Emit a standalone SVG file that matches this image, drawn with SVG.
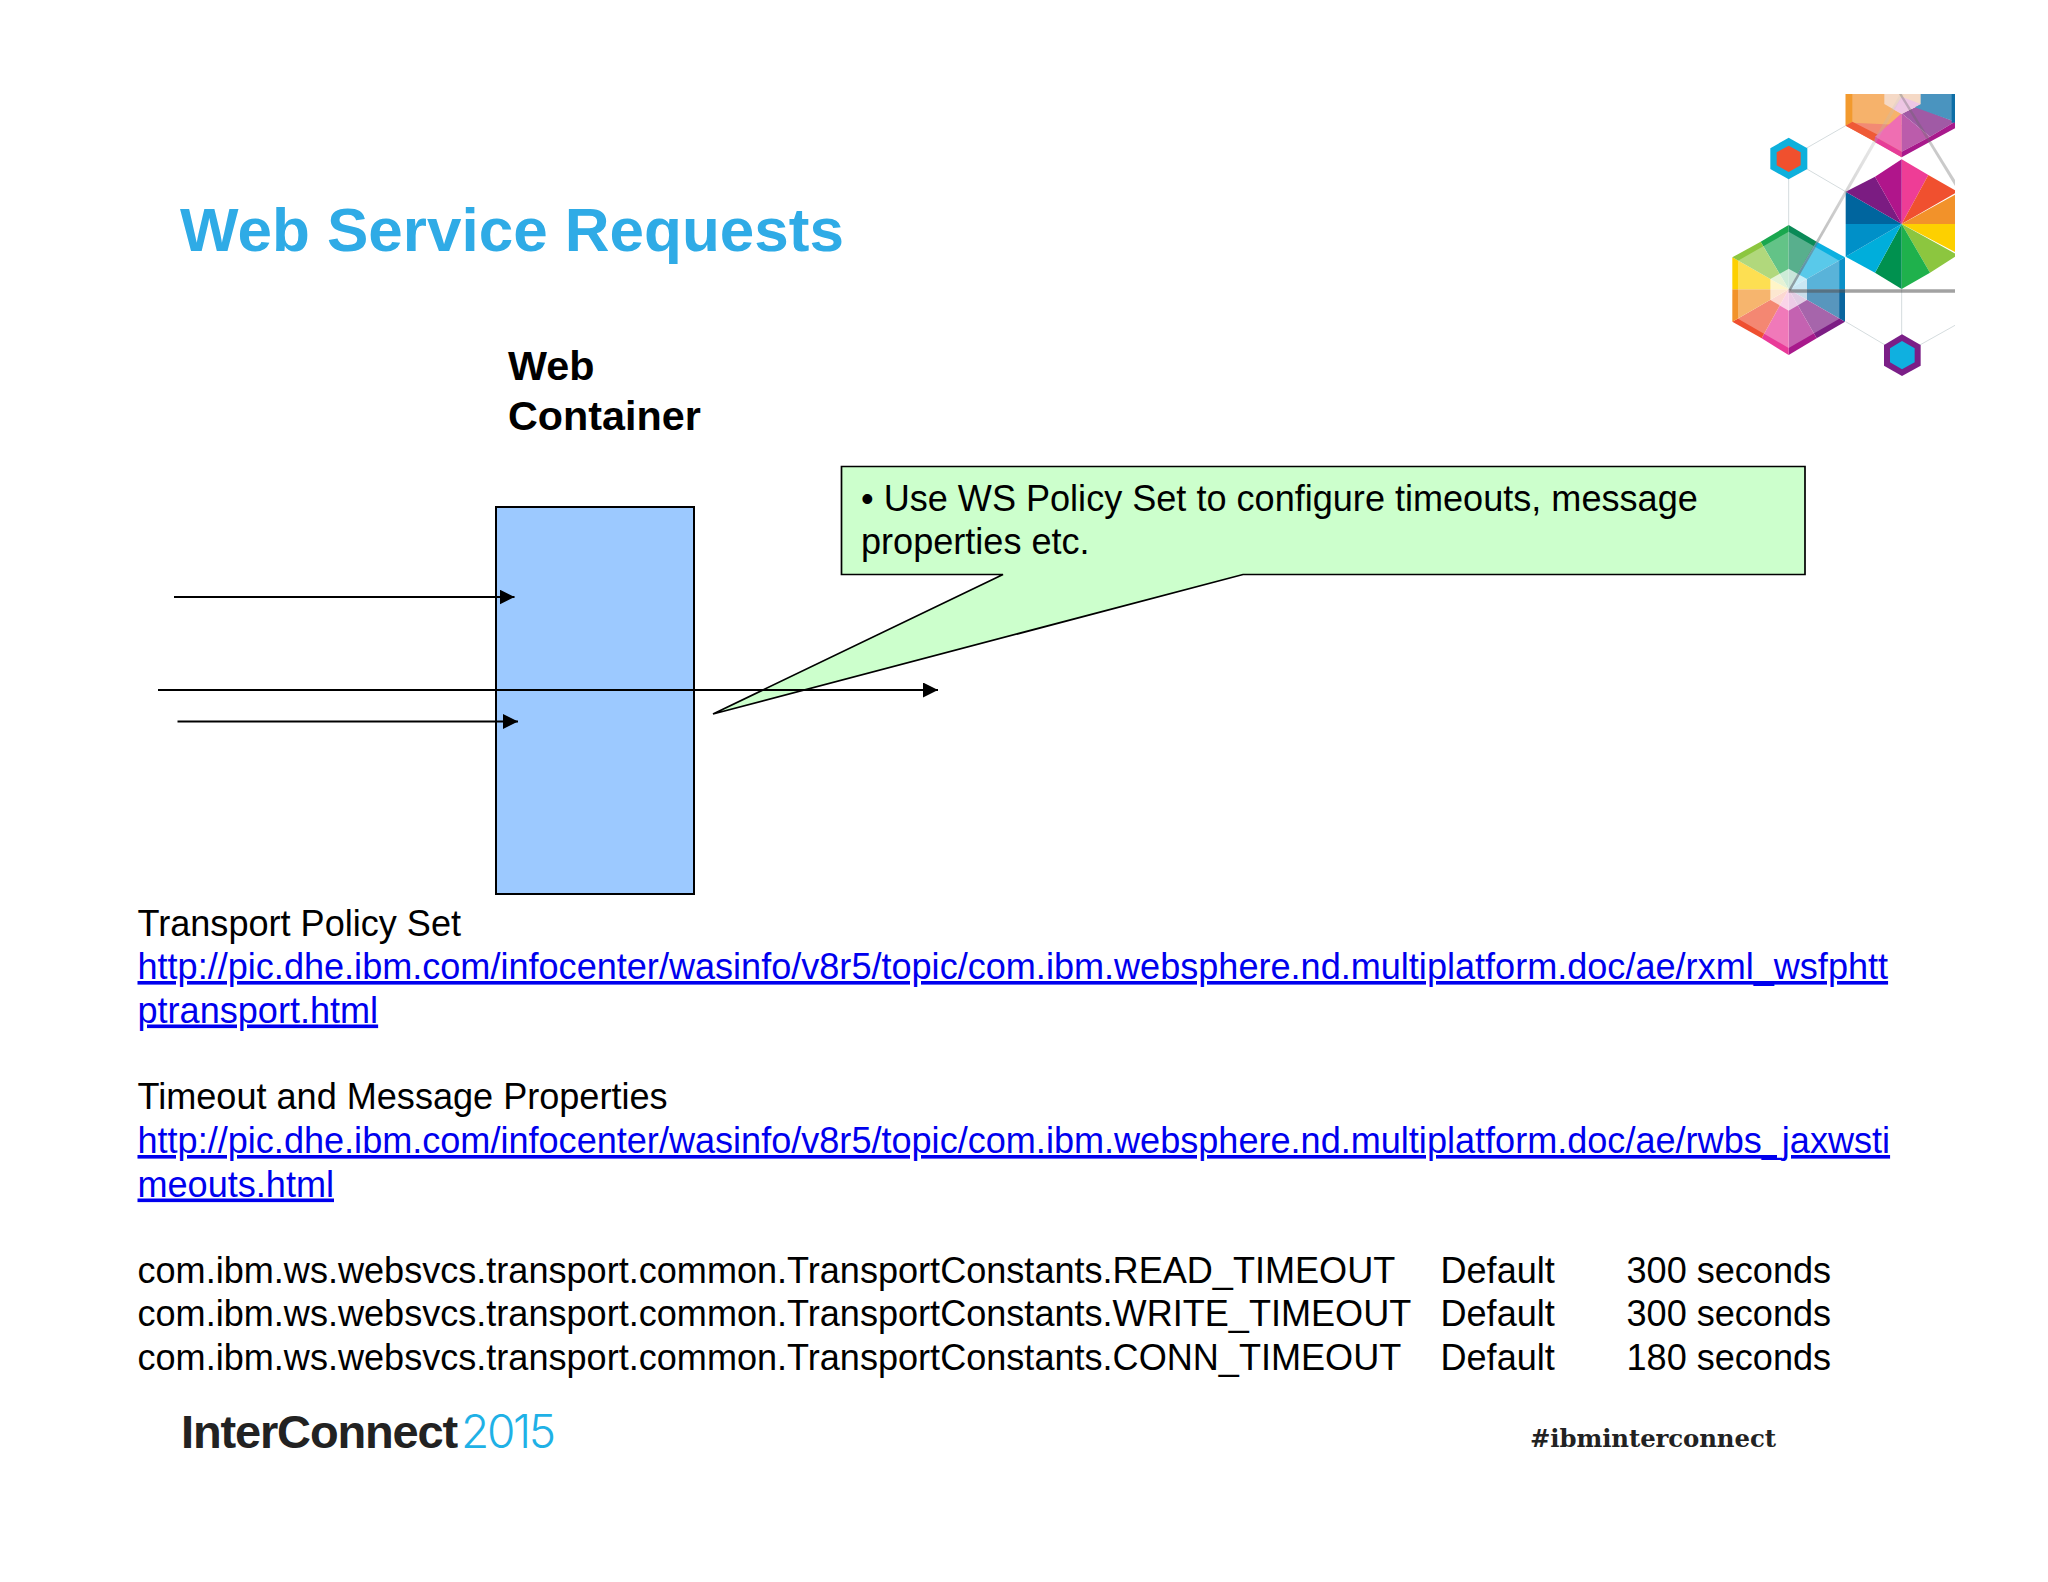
<svg xmlns="http://www.w3.org/2000/svg" width="2048" height="1582" viewBox="0 0 2048 1582">
<style>
text{font-family:"Liberation Sans",Arial,sans-serif;fill:#000}
.b{font-size:36.1px}
.l{font-size:36.1px;fill:#0000ee;text-decoration:underline}
.h{font-size:41.3px;font-weight:bold}
.c{fill:none;stroke:#000;stroke-width:2}
.g{fill:none;stroke:#d5dcde;stroke-width:3}
</style>
<defs>
<marker id="ah" markerWidth="16" markerHeight="15" refX="15" refY="7.5" orient="auto" markerUnits="userSpaceOnUse"><path d="M0 0L15 7.5L0 15Z" fill="#000"/></marker>
<clipPath id="lc"><rect x="0" y="42" width="765" height="900"/></clipPath>
<linearGradient id="sh" x1="0" y1="0" x2="1" y2="0"><stop offset="0" stop-color="#555" stop-opacity=".55"/><stop offset="1" stop-color="#ccc" stop-opacity=".2"/></linearGradient>
</defs>
<rect width="2048" height="1582" fill="#fff"/>
<g id="title"><text x="180" y="251" font-size="62" font-weight="bold" style="fill:#2fabe6">Web Service Requests</text></g>
<g id="logo" transform="translate(1700 80) scale(.33333)"><g clip-path="url(#lc)">
<path class="g" d="M266 235L437 137M266 235L437 335M266 235V435M605 627V825M437 725L606 825L790 722"/>
<g id="hexTop">
<path d="M437 42H605V137L437 137Z" fill="#f6b26b"/><path d="M437 42H457V125L437 137Z" fill="#f29a2e"/>
<path d="M605 42L605 135L455 128L437 137L525 185L605 232Z" fill="#f28a74"/>
<path d="M437 137L525 185L535 165L457 125Z" fill="#ef5a36"/>
<path d="M605 100L525 170L605 215Z" fill="#ef6eb2"/><path d="M525 170L525 187L605 232V215Z" fill="#e63c98"/>
<path d="M605 100V215L690 170Z" fill="#bb5cab"/><path d="M605 100L690 170L765 125L650 80Z" fill="#a05aa5"/>
<path d="M605 215V232L690 185L765 145V125L690 170Z" fill="#a8198c"/>
<path d="M650 42H765V125L640 80Z" fill="#4a94bf"/><path d="M755 42H765V128H755Z" fill="#0d6ea6"/>
<path d="M553 42H662V72L605 102L553 72Z" fill="#f5d9c6"/><path d="M605 50L662 72L605 102L580 88Z" fill="#eec6e4"/>
</g>
<g id="hexBig">
<path d="M605 432L605 238L685 285Z" fill="#ee3d96"/><path d="M605 432L685 285L773 335Z" fill="#f0502f"/><path d="M605 432L773 340V432Z" fill="#f2922a"/>
<path d="M605 432H773V520Z" fill="#fdd000"/><path d="M605 432L773 525L690 578Z" fill="#8cc63f"/><path d="M605 432L690 578L605 627Z" fill="#1fb14c"/>
<path d="M605 432V627L525 578Z" fill="#00914f"/><path d="M605 432L525 578L437 530Z" fill="#00aedb"/><path d="M605 432L437 530V432Z" fill="#0090c8"/>
<path d="M605 432H437V335Z" fill="#00659e"/><path d="M605 432L437 335L525 290Z" fill="#7b1c82"/><path d="M605 432L525 290L605 238Z" fill="#b0158b"/>
</g>
<g id="hexLeft">
<path d="M266 435L182 485L266 628Z" fill="#1aa74e"/><path d="M266 435L350 485L266 628Z" fill="#0a8a57"/><path d="M350 485L435 532L266 628Z" fill="#0bb0e0"/><path d="M435 532V628H266Z" fill="#0b90c8"/><path d="M435 628V725L266 628Z" fill="#0a659e"/>
<path d="M435 725L350 775L266 628Z" fill="#7c1d84"/><path d="M350 775L266 825V628Z" fill="#a8198c"/><path d="M266 825L185 775L266 628Z" fill="#e93a98"/><path d="M185 775L97 725L266 628Z" fill="#ef4f30"/><path d="M97 725V628H266Z" fill="#f2932a"/><path d="M97 628V532L266 628Z" fill="#fdd000"/><path d="M97 532L182 485L266 628Z" fill="#8cc63f"/>
<path d="M266 455L418 542V716L266 804L114 716V542Z" fill="#fff" fill-opacity=".32"/>
<path d="M266 566L321 597V660L266 692L211 660V597Z" fill="#fff" fill-opacity=".68"/>
</g>
<path d="M266 628L600 42L612 42L272 632Z" fill="url(#sh)"/>
<path d="M605 42L765 300V318L597 42Z" fill="#666" fill-opacity=".35"/>
<path d="M266 628H765V638H266Z" fill="#555" fill-opacity=".55"/>
<g id="hexRed"><path d="M266 173L322 205V267L266 298L211 267V205Z" fill="#0eb0dc"/><path d="M266 197L302 217V256L266 276L230 256V217Z" fill="#f0502e"/></g>
<g id="hexPurple"><path d="M606 763L662 795V857L606 888L552 857V795Z" fill="#7b1f87"/><path d="M606 783L644 805V847L606 868L570 847V805Z" fill="#0fb0e0"/></g>
</g></g>
<g id="web-container">
<rect x="496" y="507" width="198" height="387" fill="#9cc9ff" stroke="#000" stroke-width="2"/>
<text class="h" x="508" y="380">Web</text><text class="h" x="508" y="430">Container</text>
</g>
<g id="callout">
<path d="M841.500 466.500H1805V574.500H1243L713 714L1003 574.500H841.500Z" fill="#ccffcc" stroke="#000" stroke-width="1.700"/>
<text class="b" x="861" y="511">• Use WS Policy Set to configure timeouts, message</text>
<text class="b" x="861" y="554">properties etc.</text>
</g>
<g id="connectors">
<path class="c" marker-end="url(#ah)" d="M174 597H514.500"/>
<path class="c" marker-end="url(#ah)" d="M158 690H938"/>
<path class="c" marker-end="url(#ah)" d="M177.500 721.500H518"/>
</g>
<g id="body">
<text class="b" x="137.500" y="935.500">Transport Policy Set</text>
<text class="l" x="137.500" y="979">http://pic.dhe.ibm.com/infocenter/wasinfo/v8r5/topic/com.ibm.websphere.nd.multiplatform.doc/ae/rxml_wsfphtt</text>
<text class="l" x="137.500" y="1022.500">ptransport.html</text>
<text class="b" x="137.500" y="1109">Timeout and Message Properties</text>
<text class="l" x="137.500" y="1153">http://pic.dhe.ibm.com/infocenter/wasinfo/v8r5/topic/com.ibm.websphere.nd.multiplatform.doc/ae/rwbs_jaxwsti</text>
<text class="l" x="137.500" y="1196.500">meouts.html</text>
<text class="b" x="137.500" y="1283">com.ibm.ws.websvcs.transport.common.TransportConstants.READ_TIMEOUT</text>
<text class="b" x="1440.500" y="1283">Default</text><text class="b" x="1626.500" y="1283">300 seconds</text>
<text class="b" x="137.500" y="1326">com.ibm.ws.websvcs.transport.common.TransportConstants.WRITE_TIMEOUT</text>
<text class="b" x="1440.500" y="1326">Default</text><text class="b" x="1626.500" y="1326">300 seconds</text>
<text class="b" x="137.500" y="1370">com.ibm.ws.websvcs.transport.common.TransportConstants.CONN_TIMEOUT</text>
<text class="b" x="1440.500" y="1370">Default</text><text class="b" x="1626.500" y="1370">180 seconds</text>
</g>
<g id="footer">
<text x="181" y="1448" font-size="47" font-weight="bold" letter-spacing="-1.150" style="fill:#222">InterConnect</text>
<text x="461" y="1448" font-size="46" letter-spacing="-2.300" style="font-family:Inter,'Liberation Sans',sans-serif;font-weight:300;fill:#1fb1e6">2015</text>
<text x="1530" y="1446.500" font-size="24.400" font-weight="bold" letter-spacing="-.1" style="font-family:'DejaVu Serif',serif;fill:#222">#ibminterconnect</text>
</g>
</svg>
